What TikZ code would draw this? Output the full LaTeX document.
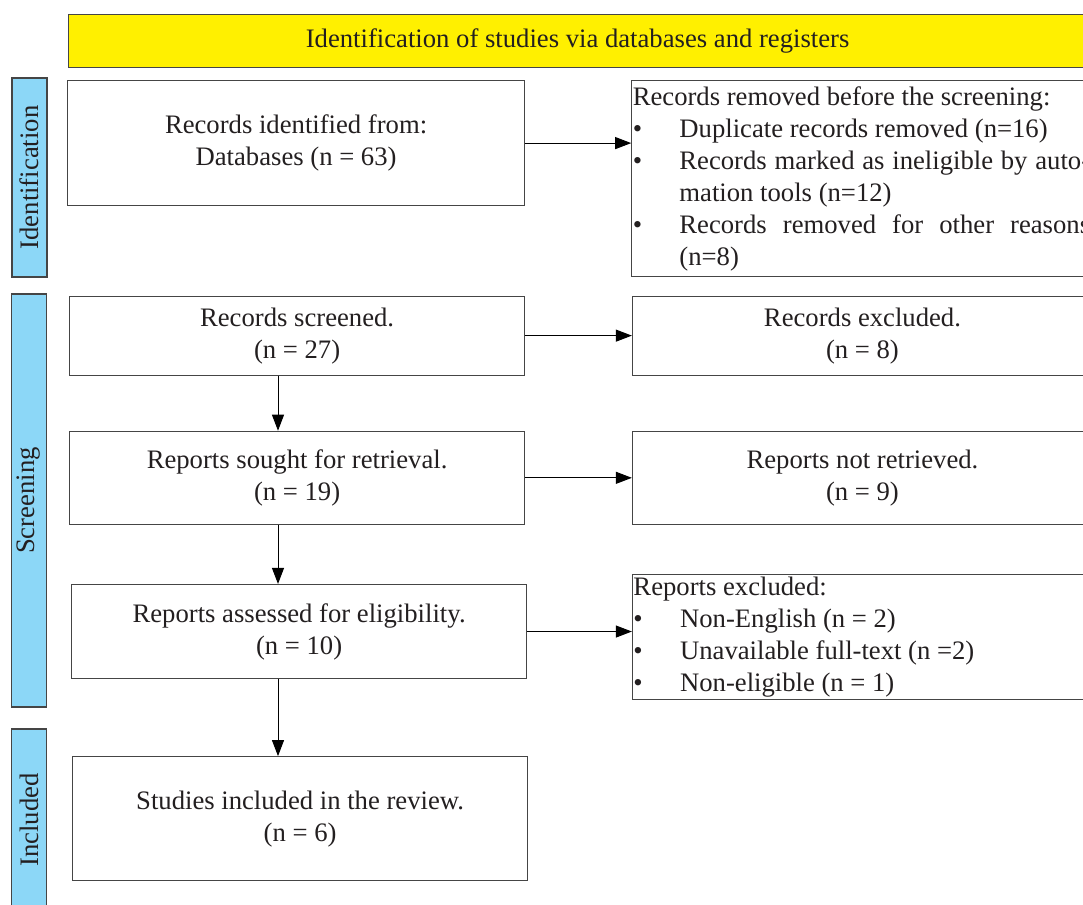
\documentclass[tikz,border=0pt]{standalone}
\usepackage{fontspec}
\setmainfont{Liberation Serif}
\usepackage{xcolor}
\usetikzlibrary{positioning,arrows.meta}
\definecolor{bannerfill}{HTML}{FFF000}
\definecolor{phasefill}{HTML}{8CD7F7}
\definecolor{edge}{HTML}{454545}
\definecolor{ink}{HTML}{231F20}
\newcommand{\bul}[1]{\par\noindent\hangindent=35pt\hangafter=1\makebox[35pt][l]{\textbullet}#1}

\begin{document}
\begin{tikzpicture}[
  font=\fontsize{20}{24}\selectfont, text=ink,
  block/.style={draw=edge, line width=0.9pt, fill=white, align=center, minimum width=341.25pt},
  listbox/.style={draw=edge, line width=0.9pt, fill=white, text width=343pt, inner xsep=0.75pt, inner ysep=1pt, align=justify},
  phase/.style={draw=edge, line width=0.9pt, fill=phasefill, rotate=90, minimum height=26.25pt, inner sep=0pt},
  arr/.style={-{Triangle[length=12pt, width=9pt]}, line width=0.75pt, color=black}
]
  \useasboundingbox (0,0) rectangle (812.25pt,-678.75pt);

  % Banner
  \node[draw=edge, line width=0.9pt, fill=bannerfill, minimum width=763.5pt, minimum height=39.75pt, anchor=north west] (banner) at (51pt,-10.5pt) {Identification of studies via databases and registers};

  % Phase bars
  \node[phase, minimum width=149.25pt] (pid) at (22.1pt,-133.1pt) {Identification};
  \node[phase, minimum width=309.75pt] (pscr) at (21.75pt,-375.4pt) {Screening};
  \node[phase, minimum width=136.5pt] (pinc) at (21.75pt,-615pt) {Included};

  % Main column
  \node[block, minimum width=342.75pt, minimum height=93.75pt, anchor=north west] (ident) at (50.25pt,-60pt) {Records identified from:\\Databases (n = 63)};
  \node[block, minimum height=59.25pt, below=67pt of ident.south west, anchor=north west, xshift=1.5pt] (screen) {Records screened.\\(n = 27)};
  \node[block, minimum height=69.75pt, below=41.25pt of screen.south west, anchor=north west] (sought) {Reports sought for retrieval.\\(n = 19)};
  \node[block, minimum height=70.5pt, below=44.25pt of sought.south west, anchor=north west, xshift=1.5pt] (assess) {Reports assessed for eligibility.\\(n = 10)};
  \node[block, minimum height=93pt, below=57.75pt of assess.south west, anchor=north west, xshift=0.75pt] (incl) {Studies included in the review.\\(n = 6)};

  % Side column
  \node[listbox, minimum height=147pt, right=79.5pt of ident.north east, anchor=north west] (removed) {\noindent Records removed before the screening:
    \bul{Duplicate records removed (n=16)}
    \bul{Records marked as ineligible by auto-\linebreak mation tools (n=12)}
    \bul{Records removed for other reasons\linebreak (n=8)}\par};
  \node[block, minimum width=345pt, minimum height=59.25pt, right=80pt of screen] (excl) {Records excluded.\\(n = 8)};
  \node[block, minimum width=345pt, minimum height=69.75pt, right=80pt of sought] (notret) {Reports not retrieved.\\(n = 9)};
  \node[listbox, minimum height=93.75pt, right=78.5pt of assess.north east, anchor=north west, yshift=7.5pt] (rexcl) {\noindent Reports excluded:
    \bul{Non-English (n = 2)}
    \bul{Unavailable full-text (n =2)}
    \bul{Non-eligible (n = 1)}\par};

  % Arrows
  \coordinate (spine) at (208.5pt,0);
  \draw[arr] (ident.east) -- (ident.east -| removed.west);
  \draw[arr] (screen.east) -- (excl.west);
  \draw[arr] (sought.east) -- (notret.west);
  \draw[arr] (assess.east) -- (assess.east -| rexcl.west);
  \draw[arr] (screen.south -| spine) -- (sought.north -| spine);
  \draw[arr] (sought.south -| spine) -- (assess.north -| spine);
  \draw[arr] (assess.south -| spine) -- (incl.north -| spine);
\end{tikzpicture}
\end{document}
